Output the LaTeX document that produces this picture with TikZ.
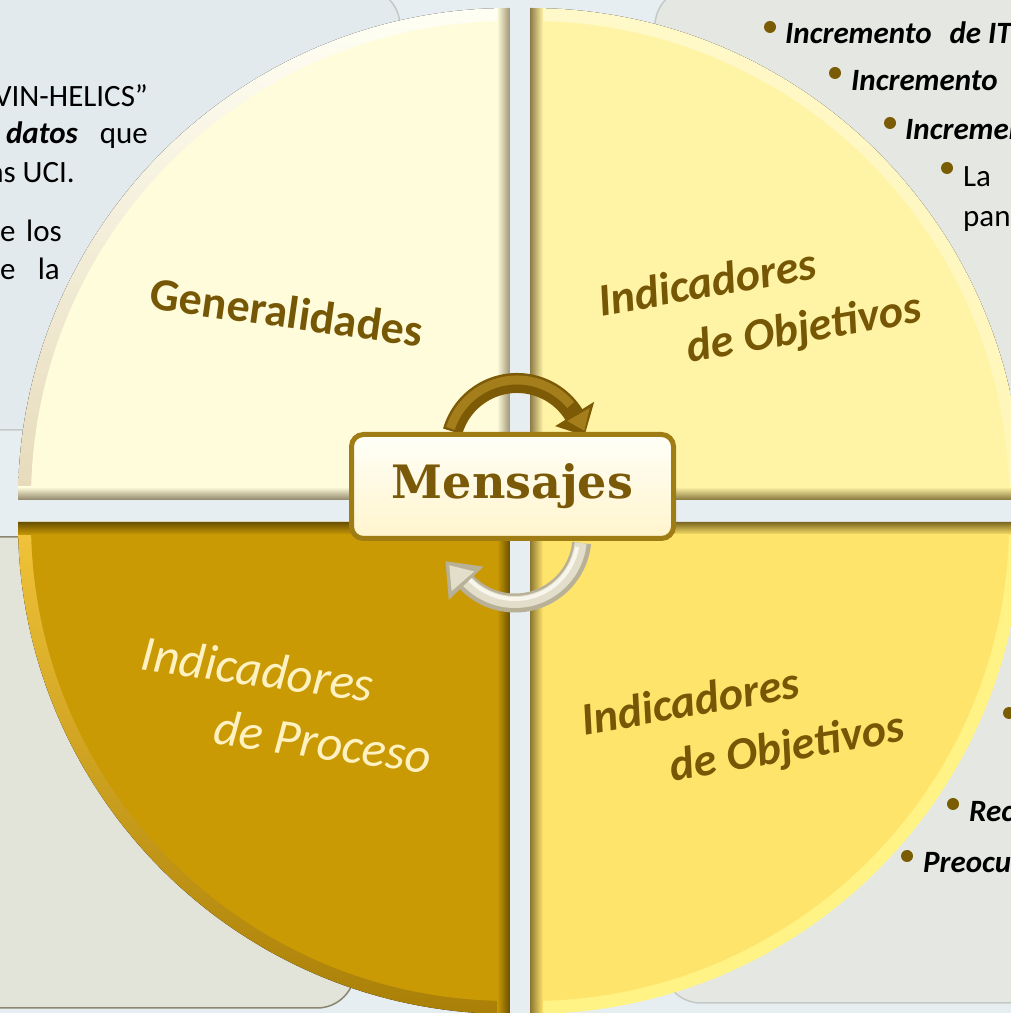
\documentclass[tikz,border=0pt]{standalone}
\usepackage{fontspec}
\setmainfont{Carlito}
\newfontfamily\msgfont{DejaVu Serif}
\usetikzlibrary{calc}
\newcommand{\dc}[2]{\definecolor{#1}{HTML}{#2}}
\dc{bg}{E7EEF2}
\dc{panelA}{E3EAED}
\dc{panelB}{E5E8E2}
\dc{panelC}{E2E4DA}
\dc{panelEdge}{C4C9C6}
\dc{panelEdgeC}{8A8670}
\dc{bullet}{7A5C05}
\dc{tlMain}{FFFCDB}
\dc{trMain}{FFF3A5}
\dc{blMain}{CA9A05}
\dc{brMain}{FFE46B}
\dc{lblBrown}{765705}
\dc{lblCream}{FFF2C2}
\dc{boxEdge}{A07C14}
\dc{boxTop}{FFFFF8}
\dc{boxBot}{FFF4CC}
\dc{msgText}{7A5A08}
\dc{arrBrown}{7C5A06}
\dc{arrBrownL}{A57E1C}
\dc{arrSilver}{B8B198}
\dc{arrSilverL}{E3DECA}
\dc{arrSilverH}{F8F6EC}
\dc{tlTop}{FFFFF4}
\dc{tlBot}{E6DABA}
\dc{tlEdgeR}{9D9375}
\dc{tlEdgeB}{8F866A}
\dc{trTop}{FFF8C8}
\dc{trBot}{FFF6B8}
\dc{trEdgeL}{8C7B46}
\dc{trEdgeB}{85753C}
\dc{blTop}{F2C43A}
\dc{blBot}{A87E06}
\dc{blEdge}{6A5000}
\dc{brBev}{FFF386}
\dc{brEdgeL}{8A7632}
\dc{brEdgeT}{7A6620}
\tikzset{
  panel/.style={rounded corners=38pt, line width=1.5pt, draw=panelEdge},
  ptext/.style={inner sep=0pt, text=black, font=\fontsize{31}{37}\selectfont},
  pbold/.style={inner sep=0pt, text=black, font=\fontsize{31}{37}\selectfont\bfseries\itshape},
  dot/.style={circle, fill=bullet, inner sep=0pt, minimum size=12pt},
  qbold/.style={inner sep=0pt, text=lblBrown, font=\fontsize{46}{50}\selectfont\bfseries},
  qboldit/.style={inner sep=0pt, align=left, text=lblBrown, font=\fontsize{46}{61}\selectfont\bfseries\itshape},
  qit/.style={inner sep=0pt, align=left, text=lblCream, font=\fontsize{50}{63}\selectfont\itshape},
}
\begin{document}
\begin{tikzpicture}[x=1pt,y=1pt]
\useasboundingbox (0,0) rectangle (1011,1013);
\clip (0,0) rectangle (1011,1013);
\fill[bg] (0,0) rectangle (1011,1013);

% text panels behind the circle
\path[panel, fill=panelA] (-40,583) rectangle (400,1025);
\path[panel, fill=panelB] (655,583) rectangle (1060,1025);
\path[panel, fill=panelC, draw=panelEdgeC] (-40,5) rectangle (355,476);
\path[panel, fill=panelB] (663,10) rectangle (1060,476);

% ---------- top-left quadrant ----------
\begin{scope}
  \clip (510,513) -- (510,1005) arc[start angle=90,end angle=180,radius=492] -- cycle;
  \fill[top color=tlTop, bottom color=tlBot] (0,513) rectangle (510,1005);
  \fill[left color=tlMain, right color=tlEdgeR] (497,513) rectangle (510,1005);
  \fill[top color=tlMain, bottom color=tlEdgeB] (0,513) rectangle (510,526);
  \begin{scope}
    \clip (497,526) rectangle (0,1013);
    \fill[tlMain] (510,513) circle (479);
  \end{scope}
\end{scope}
% ---------- top-right quadrant ----------
\begin{scope}
  \clip (530,513) -- (1022,513) arc[start angle=0,end angle=90,radius=492] -- cycle;
  \fill[top color=trTop, bottom color=trBot] (530,513) rectangle (1030,1005);
  \fill[left color=trEdgeL, right color=trMain] (530,513) rectangle (543,1005);
  \fill[top color=trMain, bottom color=trEdgeB] (530,513) rectangle (1030,526);
  \begin{scope}
    \clip (543,526) rectangle (1100,1100);
    \fill[trMain] (530,513) circle (479);
  \end{scope}
\end{scope}
% ---------- bottom-left quadrant ----------
\begin{scope}
  \clip (510,491) -- (18,491) arc[start angle=180,end angle=270,radius=492] -- cycle;
  \fill[top color=blTop, bottom color=blBot] (0,-10) rectangle (510,491);
  \fill[top color=blEdge, bottom color=blMain] (0,478) rectangle (510,491);
  \fill[left color=blMain, right color=blEdge] (497,-10) rectangle (510,491);
  \begin{scope}
    \clip (-100,-100) rectangle (497,478);
    \fill[blMain] (510,491) circle (479);
  \end{scope}
\end{scope}
% ---------- bottom-right quadrant ----------
\begin{scope}
  \clip (530,491) -- (530,-1) arc[start angle=270,end angle=360,radius=492] -- cycle;
  \fill[brBev] (530,-10) rectangle (1030,491);
  \fill[left color=brEdgeL, right color=brMain] (530,-10) rectangle (543,491);
  \fill[top color=brEdgeT, bottom color=brMain] (530,478) rectangle (1030,491);
  \begin{scope}
    \clip (543,478) rectangle (1100,-100);
    \fill[brMain] (530,491) circle (479);
  \end{scope}
\end{scope}

% ---------- quadrant labels ----------
\node[qbold, rotate=-8] (gen) at (287,701) {Generalidades};
\node[qboldit, rotate=10] (tro) at (760,706) {Indicadores\\\hspace*{79pt}de Objetivos};
\node[qit, rotate=-8] (blp) at (287,308) {Indicadores\\\hspace*{82pt}de Proceso};
\node[qboldit, rotate=10] (bro) at (743,287) {Indicadores\\\hspace*{79pt}de Objetivos};

% ---------- panel texts: top-left ----------
\node[ptext, anchor=base east] (t1) at (148,906) {VIN-HELICS”};
\node[pbold, anchor=base east] (t2a) at (78,869) {datos};
\node[ptext, anchor=base east] (t2b) at (148,869) {que};
\node[ptext, anchor=base east] (t3) at (75,830) {as UCI.};
\node[ptext, anchor=base west] (t4a) at (0,771) {e};
\node[ptext, anchor=base east] (t4b) at (62,771) {los};
\node[ptext, anchor=base west] (t5a) at (0,733) {e};
\node[ptext, anchor=base east] (t5b) at (60,733) {la};

% ---------- panel texts: top-right ----------
\node[dot] (d1) at (770,986) {};
\node[pbold, anchor=base west] (r1) at (785,969) {Incremento\hspace{0.35em} de ITU};
\node[dot] (d2) at (835,940) {};
\node[pbold, anchor=base west] (r2) at (851,922) {Incremento};
\node[dot] (d3) at (890,890) {};
\node[pbold, anchor=base west] (r3) at (905,873) {Incremen};
\node[dot] (d4) at (947,845) {};
\node[ptext, anchor=base west] (r4) at (963,826) {La};
\node[ptext, anchor=base west] (r5) at (963,786) {pan};

% ---------- panel texts: bottom-right ----------
\node[dot] (d5) at (1009,300) {};
\node[dot] (d6) at (953,209) {};
\node[pbold, anchor=base west] (b1) at (969,191) {Rec};
\node[dot] (d7) at (907,157) {};
\node[pbold, anchor=base west] (b2) at (923,140) {Preocu};

% ---------- circular arrows ----------
\coordinate (ac) at (517,563);
\draw[line width=20pt, arrBrown] ($(ac)+(164:67)$) arc[start angle=164, end angle=30, radius=67];
\draw[line width=9pt, arrBrownL] ($(ac)+(162:70)$) arc[start angle=162, end angle=40, radius=70];
\fill[arrBrown] ($(ac)+(32:45)$) -- ($(ac)+(32:91)$) -- ($(ac)+(12:69)$) -- cycle;
\fill[arrBrownL] ($(ac)+(30:58)$) -- ($(ac)+(30:84)$) -- ($(ac)+(16:70)$) -- cycle;

\coordinate (bc) at (515,477);
\draw[line width=19pt, arrSilver] ($(bc)+(-6:67)$) arc[start angle=-6, end angle=-138, radius=67];
\draw[line width=12pt, arrSilverL] ($(bc)+(-6:66)$) arc[start angle=-6, end angle=-140, radius=66];
\draw[line width=4pt, arrSilverH] ($(bc)+(-10:63)$) arc[start angle=-10, end angle=-138, radius=63];
\fill[arrSilver] ($(bc)+(-136:44)$) -- ($(bc)+(-136:92)$) -- ($(bc)+(-160:74)$) -- cycle;
\fill[arrSilverL] ($(bc)+(-139:54)$) -- ($(bc)+(-139:84)$) -- ($(bc)+(-156:72)$) -- cycle;

% ---------- central box ----------
\node[draw=boxEdge, line width=5pt, rounded corners=12pt,
      top color=boxTop, bottom color=boxBot,
      minimum width=322pt, minimum height=104pt, inner sep=0pt,
      text=msgText, font=\msgfont\bfseries\fontsize{46}{50}\selectfont]
      (msg) at (512.5,526.5) {Mensajes};
\end{tikzpicture}
\end{document}
